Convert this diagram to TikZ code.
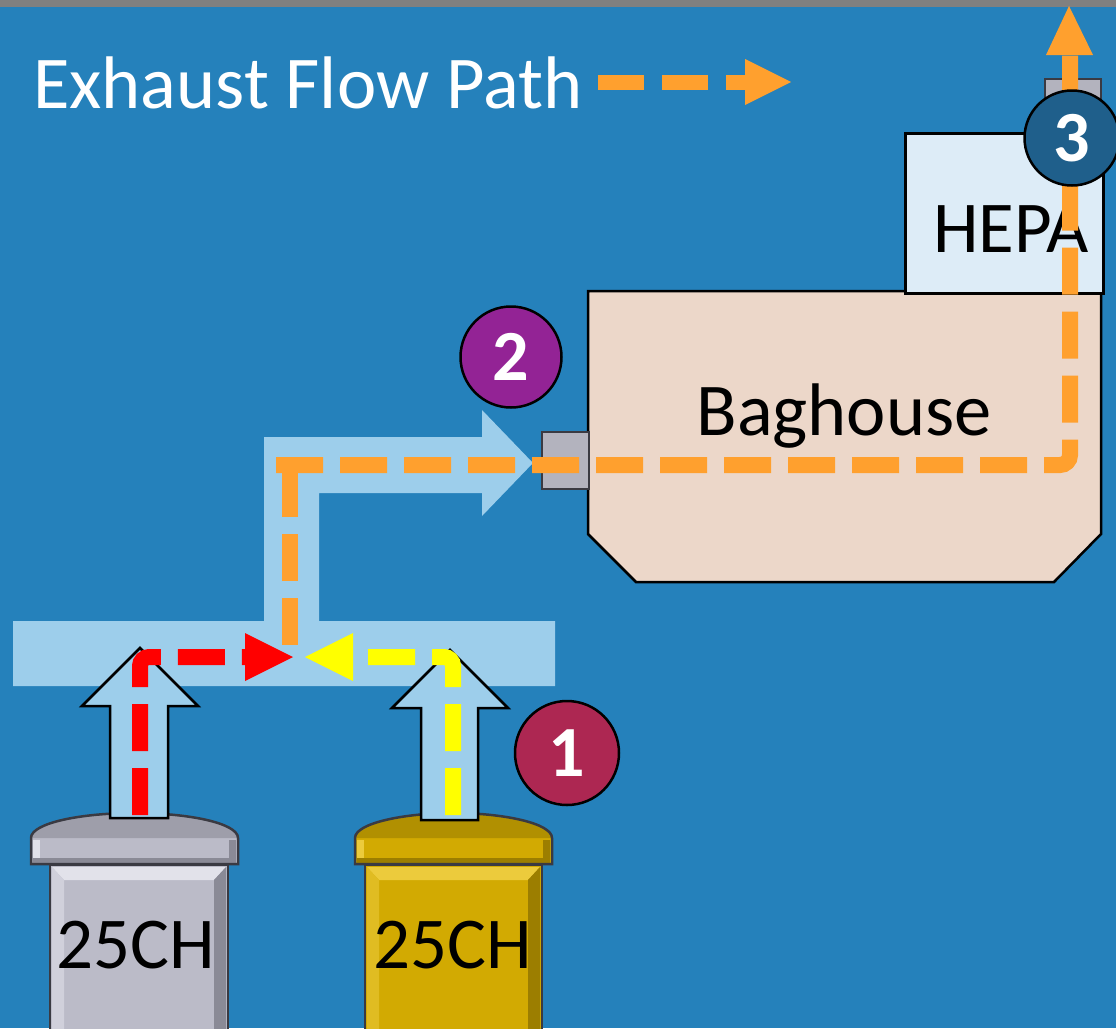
\documentclass[tikz,border=0pt]{standalone}
\usepackage{fontspec}
\setmainfont{Carlito}
\definecolor{bgblue}{HTML}{2581BB}
\definecolor{topgray}{HTML}{808080}
\definecolor{duct}{HTML}{9DCEEB}
\definecolor{flowor}{HTML}{FFA02E}
\definecolor{flowred}{HTML}{FF0000}
\definecolor{flowyel}{HTML}{FFFF00}
\definecolor{bagfill}{HTML}{ECD7C9}
\definecolor{hepafill}{HTML}{DDECF7}
\definecolor{connfill}{HTML}{B3B3BE}
\definecolor{stgray}{HTML}{BBBBC8}
\definecolor{stgraylt}{HTML}{E2E2EA}
\definecolor{stgraydk}{HTML}{8A8A96}
\definecolor{stgold}{HTML}{D2AA02}
\definecolor{stgoldlt}{HTML}{ECCB3C}
\definecolor{stgolddk}{HTML}{9C7E00}
\definecolor{stedge}{HTML}{3A3A42}
\definecolor{cone}{HTML}{AD2752}
\definecolor{ctwo}{HTML}{932395}
\definecolor{cthree}{HTML}{1F5F8B}
\newcommand\mystack[7]{%
  % #1 body left, #2 body right, #3 cap left, #4 cap right, #5 base, #6 light, #7 dark
  \fill[#5] (#1,865) rectangle (#2,1036);
  \fill[#6] (#1+2,867) -- (#2-2,867) -- (#2-14,880) -- (#1+14,880) -- cycle;
  \fill[#6!55!#5] (#1+2,867) -- (#1+14,880) -- (#1+14,1036) -- (#1+2,1036) -- cycle;
  \fill[#7] (#2-2,867) -- (#2-14,880) -- (#2-14,1036) -- (#2-2,1036) -- cycle;
  \draw[stedge, line width=2.5pt] (#1,865) rectangle (#2,1036);
  \path[fill=#5] (#3,864) -- (#3,838) .. controls (#3,823) and (#3+50,813) .. ({(#3+#4)/2},813)
     .. controls (#4-50,813) and (#4,823) .. (#4,838) -- (#4,864) -- cycle;
  \fill[#7!60!#5] (#3,838) .. controls (#3,823) and (#3+50,813) .. ({(#3+#4)/2},813)
     .. controls (#4-50,813) and (#4,823) .. (#4,838) -- cycle;
  \fill[#6] (#3+2,840) rectangle (#3+9,860);
  \fill[#7] (#3+2,858) rectangle (#4-2,864);
  \fill[#7] (#4-9,840) rectangle (#4-2,860);
  \draw[stedge, line width=2.5pt] (#3,864) -- (#3,838) .. controls (#3,823) and (#3+50,813) .. ({(#3+#4)/2},813)
     .. controls (#4-50,813) and (#4,823) .. (#4,838) -- (#4,864) -- cycle;
}
\tikzset{
  lbl/.style={anchor=base, inner sep=0pt, text=black, font=\fontsize{73}{80}\selectfont},
  numcirc/.style={circle, draw=black, line width=2.5pt, inner sep=0pt, text=white,
     font=\fontsize{72}{72}\selectfont\bfseries},
  outline/.style={draw=black, line width=2.5pt},
  flowline/.style={line width=16pt, line cap=butt, dash pattern=on 47pt off 17pt},
  uparrow/.style={fill=duct, draw=black, line width=2.5pt},
}
\begin{document}
\begin{tikzpicture}[x=1pt,y=-1pt,line join=miter]
\useasboundingbox (0,0) rectangle (1116,1028);
\fill[bgblue] (0,0) rectangle (1116,1028);
\fill[topgray] (0,0) rectangle (1116,7);

% title
\node[anchor=base west, inner sep=0pt, text=white, font=\fontsize{74.5}{80}\selectfont] (title) at (33,108) {Exhaust Flow Path};
\coordinate (ta1) at (598,82);
\coordinate (ta2) at (745,82);
\coordinate (ta3) at (791,82);
\draw[flowor, line width=15pt, dash pattern=on 46pt off 18pt] (ta1) -- (ta2);
\fill[flowor] (745,59) -- (ta3) -- (745,105) -- cycle;

% baghouse
\path[fill=bagfill, outline] (588,291) -- (1101,291) -- (1101,534) -- (1054,582) -- (636,582) -- (588,534) -- cycle;
\node[lbl, font=\fontsize{74.5}{80}\selectfont] (bag) at (844,435) {Baghouse};
\node[fill=connfill, draw=stedge, line width=2pt, minimum width=47pt, minimum height=57pt, inner sep=0pt, anchor=north west] (inlet) at (541,431) {};

% HEPA
\node[fill=hepafill, outline, minimum width=198pt, minimum height=160pt, inner sep=0pt, anchor=north west] (hepa) at (904,132) {};
\node[lbl] (hepalbl) at (1011,252) {HEPA};
\node[fill=connfill, draw=stedge, line width=2pt, minimum width=56pt, minimum height=54pt, inner sep=0pt, anchor=north west] (outlet) at (1044,78) {};

% duct
\fill[duct] (13,621) -- (264,621) -- (264,437) -- (482,437) -- (482,410) -- (533,463)
  -- (482,516) -- (482,493) -- (319,493) -- (319,621) -- (555,621) -- (555,686) -- (13,686) -- cycle;

% stacks
\mystack{50}{228}{31}{238}{stgray}{stgraylt}{stgraydk}
\mystack{365}{542}{355}{552}{stgold}{stgoldlt}{stgolddk}
\node[lbl] (s1) at (136,968) {25CH};
\node[lbl] (s2) at (453,968) {25CH};

% up arrows
\path[uparrow] (110,818) -- (110,706) -- (82,706) -- (140,648) -- (198,706) -- (168,706) -- (168,818) -- cycle;
\path[uparrow] (421,820) -- (421,708) -- (392,708) -- (450,650) -- (508,708) -- (478,708) -- (478,820) -- cycle;

% red flow
\coordinate (r0) at (140,815);
\coordinate (r1) at (140,657);
\coordinate (r2) at (245,657);
\draw[flowred, flowline, rounded corners=9pt] (r0) -- (r1) -- (r2);
\fill[flowred] (245,633) -- (293,657) -- (245,681) -- cycle;

% yellow flow
\coordinate (y0) at (453,815);
\coordinate (y1) at (453,657);
\coordinate (y2) at (353,657);
\draw[flowyel, flowline, rounded corners=9pt] (y0) -- (y1) -- (y2);
\fill[flowyel] (353,633) -- (305,657) -- (353,681) -- cycle;

% orange flow
\coordinate (o0) at (290,645);
\coordinate (o1) at (290,465);
\coordinate (o2) at (276,465);
\coordinate (o3) at (1070,465);
\coordinate (o4) at (1070,55);
\draw[flowor, flowline] (o0) -- (o1);
\draw[flowor, flowline, rounded corners=10pt] (o2) -- (o3) -- (o4);
\fill[flowor] (1046,55) -- (1069,6) -- (1093,55) -- cycle;

% numbered circles
\node[numcirc, fill=cone, minimum size=104pt] (n1) at (567,753) {1};
\node[numcirc, fill=ctwo, minimum size=101pt] (n2) at (511,357) {2};
\node[numcirc, fill=cthree, minimum size=95pt] (n3) at (1072,138) {3};
\end{tikzpicture}
\end{document}
